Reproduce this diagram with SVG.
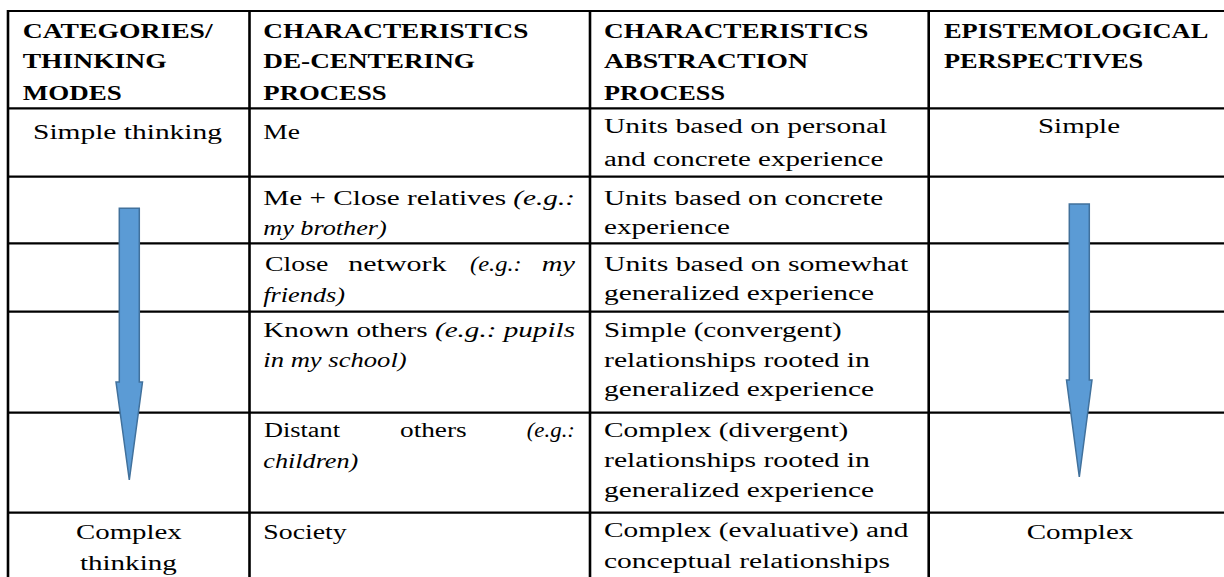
<svg xmlns="http://www.w3.org/2000/svg" width="1224" height="577" viewBox="0 0 1224 577">
<style>
.r{font-family:"Liberation Serif","Times New Roman",serif;font-size:20.5px;fill:#000}
.b{font-family:"Liberation Serif","Times New Roman",serif;font-size:21px;font-weight:bold;fill:#000}
.i{font-style:italic}
.h{stroke:#000;stroke-width:2.2}
.v{stroke:#000;stroke-width:2.6}
.arrow{fill:#5B9BD5;stroke:#41719C;stroke-width:1.5;stroke-linejoin:miter}
</style>
<rect width="1224" height="577" fill="#fff"/>
<g id="grid">
<line class="h" x1="7" y1="11" x2="1224" y2="11"/>
<line class="h" x1="7" y1="108.3" x2="1224" y2="108.3"/>
<line class="h" x1="7" y1="176.7" x2="1224" y2="176.7"/>
<line class="h" x1="7" y1="243.3" x2="1224" y2="243.3"/>
<line class="h" x1="7" y1="311.7" x2="1224" y2="311.7"/>
<line class="h" x1="7" y1="412.7" x2="1224" y2="412.7"/>
<line class="h" x1="7" y1="512.7" x2="1224" y2="512.7"/>
<line class="v" x1="8" y1="10" x2="8" y2="577"/>
<line class="v" x1="249.5" y1="10" x2="249.5" y2="577"/>
<line class="v" x1="590" y1="10" x2="590" y2="577"/>
<line class="v" x1="928.7" y1="10" x2="928.7" y2="577"/>
</g>
<g id="header">
<g id="h1"><text class="b" x="22.7" y="37.7" textLength="190" lengthAdjust="spacingAndGlyphs">CATEGORIES/</text><text class="b" x="22.7" y="68.3" textLength="144" lengthAdjust="spacingAndGlyphs">THINKING</text><text class="b" x="22.7" y="100" textLength="99" lengthAdjust="spacingAndGlyphs">MODES</text></g>
<g id="h2"><text class="b" x="263.3" y="37.7" textLength="265" lengthAdjust="spacingAndGlyphs">CHARACTERISTICS</text><text class="b" x="263.3" y="68.3" textLength="211.7" lengthAdjust="spacingAndGlyphs">DE-CENTERING</text><text class="b" x="263.3" y="100" textLength="123.4" lengthAdjust="spacingAndGlyphs">PROCESS</text></g>
<g id="h3"><text class="b" x="604" y="37.7" textLength="264.3" lengthAdjust="spacingAndGlyphs">CHARACTERISTICS</text><text class="b" x="604" y="68.3" textLength="204" lengthAdjust="spacingAndGlyphs">ABSTRACTION</text><text class="b" x="604" y="100" textLength="121" lengthAdjust="spacingAndGlyphs">PROCESS</text></g>
<g id="h4"><text class="b" x="944" y="37.7" textLength="264.3" lengthAdjust="spacingAndGlyphs">EPISTEMOLOGICAL</text><text class="b" x="944" y="68.3" textLength="199.3" lengthAdjust="spacingAndGlyphs">PERSPECTIVES</text></g>
</g>
<g id="row1">
<text class="r" x="33" y="139" textLength="189" lengthAdjust="spacingAndGlyphs">Simple thinking</text>
<text class="r" x="263.3" y="139" textLength="36.7" lengthAdjust="spacingAndGlyphs">Me</text>
<text class="r" x="604" y="133.3" textLength="283.3" lengthAdjust="spacingAndGlyphs">Units based on personal</text>
<text class="r" x="604" y="166" textLength="279.3" lengthAdjust="spacingAndGlyphs">and concrete experience</text>
<text class="r" x="1038" y="133.3" textLength="82" lengthAdjust="spacingAndGlyphs">Simple</text>
</g>
<g id="row2">
<text class="r" x="263.3" y="205" textLength="311.7" lengthAdjust="spacingAndGlyphs">Me + Close relatives <tspan class="i">(e.g.:</tspan></text>
<text class="r i" x="263.3" y="235" textLength="123.4" lengthAdjust="spacingAndGlyphs">my brother)</text>
<text class="r" x="604" y="205" textLength="279.3" lengthAdjust="spacingAndGlyphs">Units based on concrete</text>
<text class="r" x="604" y="234" textLength="126" lengthAdjust="spacingAndGlyphs">experience</text>
</g>
<g id="row3">
<text class="r" y="270.5"><tspan x="265" textLength="63.3" lengthAdjust="spacingAndGlyphs">Close</tspan> <tspan x="348.3" textLength="98.3" lengthAdjust="spacingAndGlyphs">network</tspan> <tspan class="i" x="470" textLength="51.7" lengthAdjust="spacingAndGlyphs">(e.g.:</tspan> <tspan class="i" x="541.7" textLength="33.3" lengthAdjust="spacingAndGlyphs">my</tspan></text>
<text class="r i" x="263.3" y="301.7" textLength="81.7" lengthAdjust="spacingAndGlyphs">friends)</text>
<text class="r" x="604" y="271" textLength="304.3" lengthAdjust="spacingAndGlyphs">Units based on somewhat</text>
<text class="r" x="604" y="300" textLength="270" lengthAdjust="spacingAndGlyphs">generalized experience</text>
</g>
<g id="row4">
<text class="r" x="263.3" y="336.7" textLength="311.7" lengthAdjust="spacingAndGlyphs">Known others <tspan class="i">(e.g.: pupils</tspan></text>
<text class="r i" x="263.3" y="366.7" textLength="143.4" lengthAdjust="spacingAndGlyphs">in my school)</text>
<text class="r" x="604" y="336.7" textLength="237.7" lengthAdjust="spacingAndGlyphs">Simple (convergent)</text>
<text class="r" x="604" y="366.7" textLength="266" lengthAdjust="spacingAndGlyphs">relationships rooted in</text>
<text class="r" x="604" y="396" textLength="270" lengthAdjust="spacingAndGlyphs">generalized experience</text>
</g>
<g id="row5">
<text class="r" y="437"><tspan x="264" textLength="76" lengthAdjust="spacingAndGlyphs">Distant</tspan> <tspan x="400" textLength="66.7" lengthAdjust="spacingAndGlyphs">others</tspan> <tspan class="i" x="526.7" textLength="48.3" lengthAdjust="spacingAndGlyphs">(e.g.:</tspan></text>
<text class="r i" x="263.3" y="468" textLength="95" lengthAdjust="spacingAndGlyphs">children)</text>
<text class="r" x="604" y="437" textLength="244.3" lengthAdjust="spacingAndGlyphs">Complex (divergent)</text>
<text class="r" x="604" y="467" textLength="266" lengthAdjust="spacingAndGlyphs">relationships rooted in</text>
<text class="r" x="604" y="497" textLength="270" lengthAdjust="spacingAndGlyphs">generalized experience</text>
</g>
<g id="row6">
<text class="r" x="76" y="539" textLength="105.7" lengthAdjust="spacingAndGlyphs">Complex</text>
<text class="r" x="80" y="570" textLength="96.7" lengthAdjust="spacingAndGlyphs">thinking</text>
<text class="r" x="263.3" y="539" textLength="83.4" lengthAdjust="spacingAndGlyphs">Society</text>
<text class="r" x="604" y="537" textLength="304.3" lengthAdjust="spacingAndGlyphs">Complex (evaluative) and</text>
<text class="r" x="604" y="568" textLength="286" lengthAdjust="spacingAndGlyphs">conceptual relationships</text>
<text class="r" x="1026.7" y="539" textLength="106.7" lengthAdjust="spacingAndGlyphs">Complex</text>
</g>
<g id="connectors">
<path id="arrow-left" class="arrow" d="M119.3,208.3 H139.3 V382 H142.5 L129.3,480 L116,382 H119.3 Z"/>
<path id="arrow-right" class="arrow" d="M1069.3,204 H1089.3 V380 H1092 L1079.3,477 L1066.5,380 H1069.3 Z"/>
</g>
</svg>
